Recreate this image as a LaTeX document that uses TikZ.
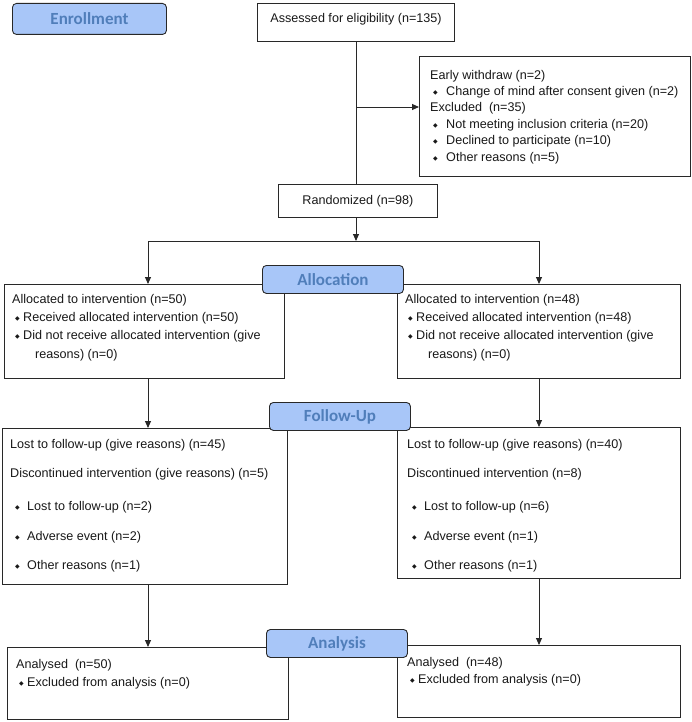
\documentclass[tikz,border=0pt]{standalone}
\usepackage{fontspec}
\setmainfont{Liberation Sans}
\newfontfamily\lblfont{Carlito}
\newfontfamily\symfont{DejaVu Sans}
\usetikzlibrary{arrows.meta}
\definecolor{lblfill}{RGB}{168,198,248}
\definecolor{lbltext}{RGB}{80,126,186}
\definecolor{edgec}{RGB}{40,40,40}
\definecolor{txtc}{RGB}{25,25,25}
\newcommand{\bul}{{\symfont\fontsize{6}{6}\selectfont\raisebox{1pt}{◆}}}
\newcommand{\bl}[1]{\makebox[#1pt][l]{\bul}}
\begin{document}
\begin{tikzpicture}[x=1pt,y=-1pt,
 box/.style={draw=edgec,line width=0.9pt,anchor=north west,inner sep=0,fill=white},
 lbl/.style={draw=edgec,line width=0.9pt,fill=lblfill,rounded corners=4pt,anchor=north west,inner sep=0,font=\lblfont\bfseries\fontsize{17}{17}\selectfont,text=lbltext},
 txt/.style={anchor=base west,inner sep=0,font=\fontsize{12.6}{14}\selectfont,text=txtc},
 arr/.style={draw=edgec,line width=0.9pt,-{Triangle[length=7pt,width=6pt]}},
 ln/.style={draw=edgec,line width=0.9pt}]
\useasboundingbox (0,0) rectangle (692,722);
\fill[white] (0,0) rectangle (692,722);
% boxes
\node[box,minimum width=197,minimum height=38] (assess) at (257,3) {};
\node[box,minimum width=271,minimum height=120] (excl) at (419,56) {};
\node[box,minimum width=159,minimum height=33,font=\fontsize{12.6}{14}\selectfont,text=txtc] (rand) at (278,184) {Randomized (n=98)};
\node[box,minimum width=280,minimum height=94] (allocL) at (4,284) {};
\node[box,minimum width=283,minimum height=94] (allocR) at (397,284) {};
\node[box,minimum width=285,minimum height=156] (fuL) at (2,428) {};
\node[box,minimum width=283,minimum height=151] (fuR) at (397,427) {};
\node[box,minimum width=281,minimum height=72] (anL) at (7,647) {};
\node[box,minimum width=283,minimum height=72] (anR) at (397,645) {};
% texts
\node[txt,anchor=base] (asT) at (356,23) {Assessed for eligibility (n=135)};
\node[txt] (e1) at (430,79.5) {Early withdraw (n=2)};
\node[txt] (e2) at (433,95.5) {\bl{13}Change of mind after consent given (n=2)};
\node[txt] (e3) at (430,111.5) {Excluded\ \ (n=35)};
\node[txt] (e4) at (433,128.5) {\bl{13}Not meeting inclusion criteria (n=20)};
\node[txt] (e5) at (433,144.5) {\bl{13}Declined to participate (n=10)};
\node[txt] (e6) at (433,161.5) {\bl{13}Other reasons (n=5)};
%
\node[txt] (aL1) at (12,303) {Allocated to intervention (n=50)};
\node[txt] (aL2) at (15,321) {\bl{8}Received allocated intervention (n=50)};
\node[txt] (aL3) at (15,339.5) {\bl{8}Did not receive allocated intervention (give};
\node[txt] (aL4) at (35,358.5) {reasons) (n=0)};
\node[txt] (aR1) at (405,303) {Allocated to intervention (n=48)};
\node[txt] (aR2) at (408,321) {\bl{8}Received allocated intervention (n=48)};
\node[txt] (aR3) at (408,339.5) {\bl{8}Did not receive allocated intervention (give};
\node[txt] (aR4) at (428,358.5) {reasons) (n=0)};
%
\node[txt] (fL1) at (10,448) {Lost to follow-up (give reasons) (n=45)};
\node[txt] (fL2) at (10,477) {Discontinued intervention (give reasons) (n=5)};
\node[txt] (fL3) at (15,510) {\bl{12}Lost to follow-up (n=2)};
\node[txt] (fL4) at (15,540) {\bl{12}Adverse event (n=2)};
\node[txt] (fL5) at (15,569) {\bl{12}Other reasons (n=1)};
\node[txt] (fR1) at (407,448) {Lost to follow-up (give reasons) (n=40)};
\node[txt] (fR2) at (407,477) {Discontinued intervention (n=8)};
\node[txt] (fR3) at (412,510) {\bl{12}Lost to follow-up (n=6)};
\node[txt] (fR4) at (412,540) {\bl{12}Adverse event (n=1)};
\node[txt] (fR5) at (412,569) {\bl{12}Other reasons (n=1)};
%
\node[txt] (nL1) at (16,668) {Analysed\ \ (n=50)};
\node[txt] (nL2) at (19,686) {\bl{8}Excluded from analysis (n=0)};
\node[txt] (nR1) at (407,666) {Analysed\ \ (n=48)};
\node[txt] (nR2) at (410,683) {\bl{8}Excluded from analysis (n=0)};
% connectors
\coordinate (j1) at (356,107);
\coordinate (split) at (356,241);
\coordinate (cL) at (148,241);
\coordinate (cR) at (539,241);
\draw[ln] (assess.south -| j1) -- (rand.north -| j1);
\draw[arr] (j1) -- (excl.west |- j1);
\draw[arr] (rand.south -| split) -- (split);
\draw[ln] (cL) -- (cR);
\draw[arr] (cL) -- (allocL.north -| cL);
\draw[arr] (cR) -- (allocR.north -| cR);
\draw[arr] (allocL.south -| cL) -- (fuL.north -| cL);
\draw[arr] (allocR.south -| cR) -- (fuR.north -| cR);
\draw[arr] (fuL.south -| cL) -- (anL.north -| cL);
\draw[arr] (fuR.south -| cR) -- (anR.north -| cR);
% labels
\node[lbl,minimum width=154,minimum height=31] (enr) at (12,3) {Enrollment};
\node[lbl,minimum width=141,minimum height=28] (alc) at (262,265) {Allocation};
\node[lbl,minimum width=141,minimum height=28] (fup) at (269,402) {Follow-Up};
\node[lbl,minimum width=141,minimum height=28] (ana) at (266,629) {Analysis};
\end{tikzpicture}
\end{document}
